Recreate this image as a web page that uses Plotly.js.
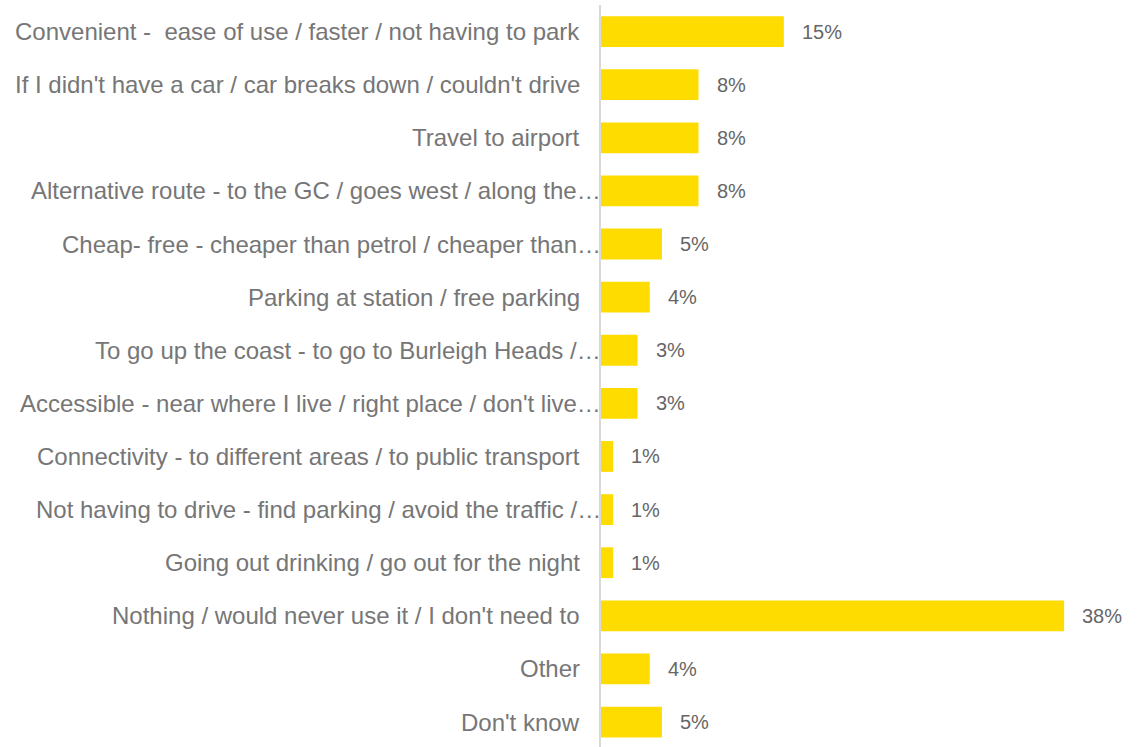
<!DOCTYPE html>
<html>
<head>
<meta charset="utf-8">
<script src="https://cdn.plot.ly/plotly-3.0.1.min.js"></script>
<style>
  html, body { margin: 0; padding: 0; background: #ffffff; }
  #chart { width: 1147px; height: 747px; }
</style>
</head>
<body>
<div id="chart"></div>
<script>
// Reasons for using the service (% of respondents)
const categories = [
  "Convenient - \u00a0ease of use / faster / not having to park",
  "If I didn't have a car / car breaks down / couldn't drive",
  "Travel to airport",
  "Alternative route - to the GC / goes west / along the\u2026",
  "Cheap- free - cheaper than petrol / cheaper than\u2026",
  "Parking at station / free parking",
  "To go up the coast - to go to Burleigh Heads /\u2026",
  "Accessible - near where I live / right place / don't live\u2026",
  "Connectivity - to different areas / to public transport",
  "Not having to drive - find parking / avoid the traffic /\u2026",
  "Going out drinking / go out for the night",
  "Nothing / would never use it / I don't need to",
  "Other",
  "Don't know"
];
const percentages = [15, 8, 8, 8, 5, 4, 3, 3, 1, 1, 1, 38, 4, 5];
const valueLabels = percentages.map(v => v + "%");

const barColor = "#FFDC00";
const labelFont = "Liberation Sans, Arial, sans-serif";

const trace = {
  type: "bar",
  orientation: "h",
  x: percentages,
  y: categories,
  marker: { color: barColor },
  width: 0.58,
  hoverinfo: "none"
};

// Percentage labels just past the end of each bar
const valueAnnotations = percentages.map((v, i) => ({
  x: v,
  y: categories[i],
  xref: "x",
  yref: "y",
  text: valueLabels[i],
  showarrow: false,
  xanchor: "left",
  yanchor: "middle",
  xshift: 16,
  font: { family: labelFont, size: 20, color: "#666666" }
}));

// Category labels, right-aligned against the axis; shortened labels
// run their ellipsis up to the axis line
const categoryAnnotations = categories.map(c => ({
  x: 0,
  y: c,
  xref: "x",
  yref: "y",
  text: c,
  showarrow: false,
  xanchor: "right",
  yanchor: "middle",
  xshift: c.endsWith("\u2026") ? 2 : -19,
  font: { family: labelFont, size: 24, color: "#767676" }
}));

const layout = {
  width: 1147,
  height: 747,
  margin: { l: 601, r: 0, t: 5, b: 0 },
  paper_bgcolor: "#ffffff",
  plot_bgcolor: "#ffffff",
  showlegend: false,
  xaxis: {
    range: [0, 44.8],
    visible: false,
    showgrid: false,
    zeroline: false,
    fixedrange: true
  },
  yaxis: {
    type: "category",
    range: [13.47, -0.5],
    showgrid: false,
    zeroline: false,
    showline: true,
    linecolor: "#d9d9d9",
    linewidth: 2,
    showticklabels: false,
    ticks: "",
    automargin: false,
    fixedrange: true
  },
  annotations: categoryAnnotations.concat(valueAnnotations)
};

Plotly.newPlot("chart", [trace], layout, { displayModeBar: false, staticPlot: true });
</script>
</body>
</html>
